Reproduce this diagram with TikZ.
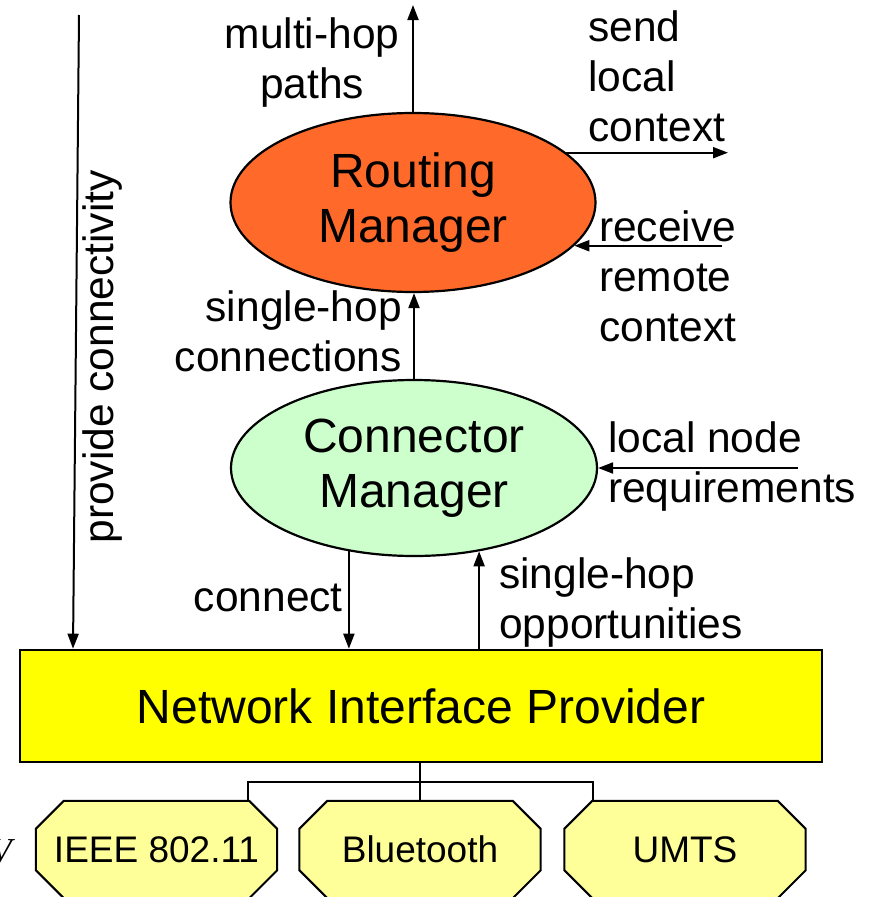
\documentclass[tikz,border=0pt]{standalone}
\usepackage{fontspec}
\setmainfont{Liberation Sans}
\newfontfamily\vserif{Liberation Serif}
\usetikzlibrary{arrows.meta,shapes.geometric,backgrounds}
\definecolor{rmorange}{HTML}{FF6A2A}
\definecolor{cmgreen}{HTML}{CCFFCC}
\definecolor{nipyellow}{HTML}{FFFF00}
\definecolor{octyellow}{HTML}{FFFF99}
\tikzset{
  lbl/.style={inner sep=0pt, font=\fontsize{42.5}{50}\selectfont},
  mgr/.style={ellipse, draw=black, line width=2.2pt, inner sep=0pt, align=center,
              font=\fontsize{48}{55}\selectfont},
  octa/.style={rectangle, minimum width=241pt, minimum height=97pt, inner sep=0pt,
               font=\fontsize{37}{40}\selectfont},
  octline/.style={draw=black, line width=2pt, fill=octyellow, line join=miter},
  arr/.style={line width=2pt, -{Triangle[length=15pt,width=11pt]}},
  ln/.style={line width=2pt}
}
\begin{document}
\begin{tikzpicture}[x=1pt,y=-1pt]
\useasboundingbox (0,0) rectangle (870,897);
% managers
\node[mgr, fill=rmorange, minimum width=365pt, minimum height=179pt] (rm) at (413,202.5) {Routing\\Manager};
\node[mgr, fill=cmgreen, minimum width=366pt, minimum height=176pt] (cm) at (414,468) {Connector\\Manager};
% network interface provider
\node[draw=black, line width=2.6pt, fill=nipyellow, minimum width=802pt, minimum height=112pt,
      inner sep=0pt, font=\fontsize{48}{55}\selectfont] (nip) at (421,706) {Network Interface Provider};
% octagons
\node[octa] (ieee) at (156.5,849.5) {IEEE 802.11};
\node[octa] (bt) at (420,849.5) {Bluetooth};
\node[octa] (umts) at (685,849.5) {UMTS};
\begin{scope}[on background layer]
\foreach \n in {ieee,bt,umts}{
  \draw[octline] ([xshift=28pt]\n.north west) -- ([xshift=-28pt]\n.north east)
     -- ([yshift=-28pt]\n.north east) -- ([yshift=28pt]\n.south east)
     -- ([xshift=-28pt]\n.south east) -- ([xshift=28pt]\n.south west)
     -- ([yshift=28pt]\n.south west) -- ([yshift=-28pt]\n.north west) -- cycle;
}
\end{scope}
% labels
\node[lbl, align=center] (lmh) at (312,63) {multi-hop\\paths};
\node[lbl, align=left, anchor=west] (lsend) at (588,76) {send\\local\\context};
\node[lbl, align=left, anchor=west] (lrecv) at (599,276) {receive\\remote\\context};
\node[lbl, align=right, anchor=east] (lshc) at (402,331) {single-hop\\connections};
\node[lbl, align=left, anchor=west] (lln) at (608,467) {local node\\requirements};
\node[lbl, anchor=east] (lconn) at (343,598) {connect};
\node[lbl, align=left, anchor=west] (lsho) at (499,603) {single-hop\\opportunities};
\node[lbl, rotate=90] (lpc) at (103,357) {provide connectivity};
\node[inner sep=0pt, anchor=base east, font=\vserif\itshape\fontsize{35}{40}\selectfont] (lv) at (12,862) {V};
% free ends
\coordinate (mhend) at (413,5);
\coordinate (sendend) at (728,152);
\coordinate (recvstart) at (722,246);
\coordinate (lnstart) at (798,466);
\coordinate (pcstart) at (79,15);
\coordinate (pcend) at (73,0);
\coordinate (hub) at (420,782);
\coordinate (lx) at (248,0);
\coordinate (rx) at (593,0);
% connectors
\draw[arr] (rm.north) -- (mhend);
\draw[arr] (rm.18.5) -- (rm.18.5 -| sendend);
\draw[arr] (rm.-15.3 -| recvstart) -- (rm.-15.3);
\draw[arr] (cm.north) -- (cm.north |- rm.south);
\draw[arr] (lnstart |- cm.east) -- (cm.east);
\draw[arr] (cm.232.7) -- (cm.232.7 |- nip.north);
\draw[arr] (cm.308.3 |- nip.north) -- (cm.308.3);
\draw[arr] (pcstart) -- (nip.north -| pcend);
% bus to interfaces
\draw[ln] (nip.south -| hub) -- (hub);
\draw[ln] (ieee.north -| lx) |- (hub) -| (umts.north -| rx);
\draw[ln] (hub) -- (bt.north);
\end{tikzpicture}
\end{document}
